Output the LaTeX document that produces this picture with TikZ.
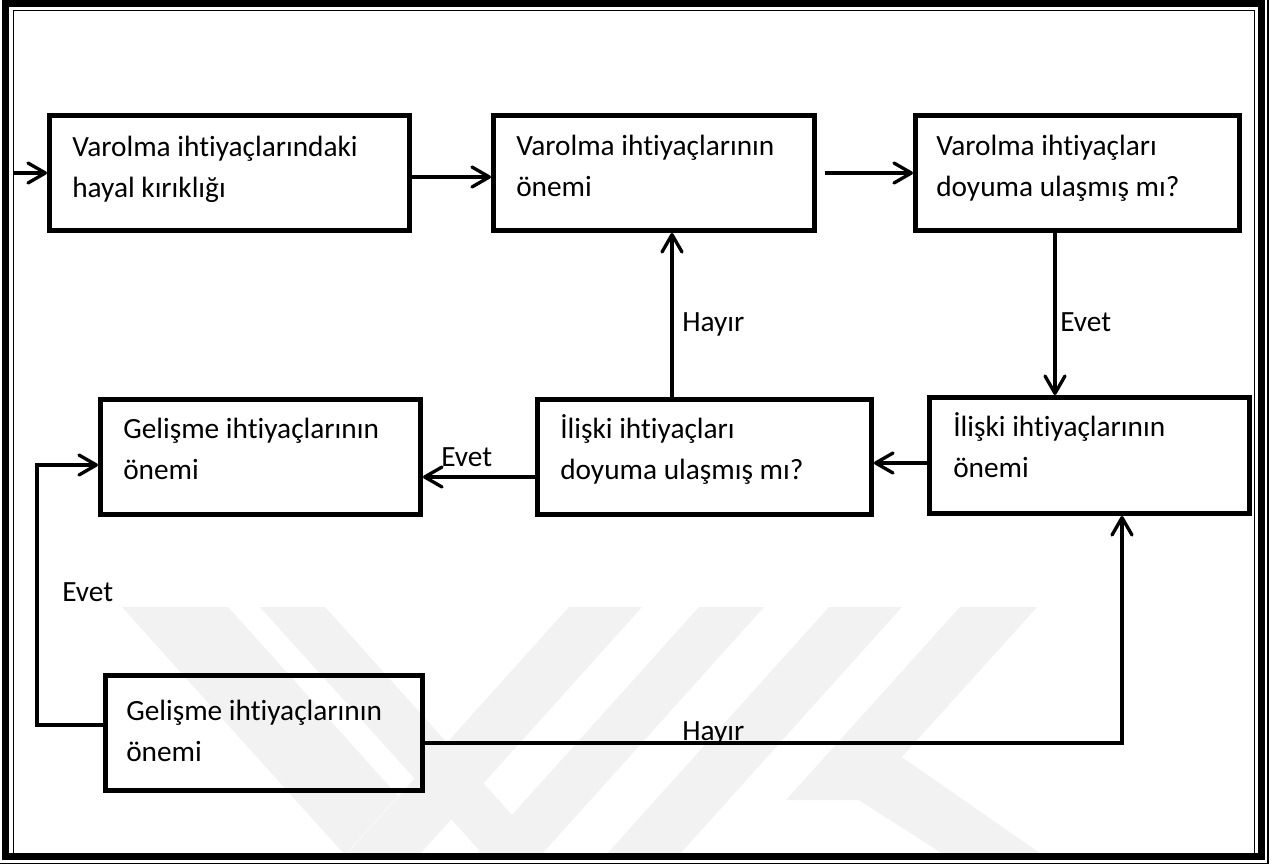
\documentclass[tikz,border=0pt]{standalone}
\usepackage{fontspec}
\setmainfont[Ligatures={NoCommon,NoContextual}]{Carlito}
\usetikzlibrary{arrows.meta,fit}
% two left-aligned lines; the node baseline is the first line
\newcommand\twoln[2]{\vtop{\baselineskip=31.1pt\hbox{#1}\hbox{#2}}}
\begin{document}
\begin{tikzpicture}[x=0.75pt,y=-0.75pt,
  box/.style={draw,line width=3.75pt,inner sep=0pt},
  txt/.style={anchor=base west,inner sep=0pt,font=\fontsize{22pt}{31pt}\selectfont},
  conn/.style={line width=2.5pt,line join=miter},
  arr/.style={conn,-{Straight Barb[length=13pt,width=15pt,round]}},
  wm/.style={fill=black!5,draw=none}]
\useasboundingbox (0,0) rectangle (1271,865);
\fill[white] (0,0) rectangle (1271,865);

% faint watermark bands
\begin{scope}
  \clip (14,11) rectangle (1254,852);
  \fill[wm] (122,607) -- (228,607) -- (398,796) -- (345,855) -- cycle;
  \fill[wm] (569,607) -- (642,607) -- (410,865) -- (337,865) -- cycle;
  \fill[wm] (260,607) -- (325,607) -- (512,815) -- (480,851) -- cycle;
  \fill[wm] (699,607) -- (764,607) -- (532,865) -- (467,865) -- cycle;
  \fill[wm] (829,607) -- (902,607) -- (670,865) -- (597,865) -- cycle;
  \fill[wm] (960,607) -- (1037,607) -- (863,800) -- (786,800) -- cycle;
  \fill[wm] (820,775) -- (870,735) -- (1057,865) -- (960,865) -- cycle;
\end{scope}

% page frame: thick line with thin companions
\draw[line width=5.25pt] (5.5,3.5) rectangle (1261.5,856.5);
\draw[line width=1.3pt] (13.5,853) -- (13.5,10.5) -- (1254.5,10.5) -- (1254.5,853);
\draw[line width=1.3pt] (1268,0) -- (1268,863.5) -- (0,863.5);

% boxes
\node[box,fit={(49.5,115.5) (409.5,230.5)}] (b1) {};
\node[box,fit={(493.5,115.5) (814.5,230.5)}] (b2) {};
\node[box,fit={(915.5,115.5) (1239.5,230.5)}] (b3) {};
\node[box,fit={(100.5,399.5) (420.5,514.5)}] (b4) {};
\node[box,fit={(537.5,399.5) (871.5,514.5)}] (b5) {};
\node[box,fit={(929.5,397.5) (1249.5,513.5)}] (b6) {};
\node[box,fit={(105.5,675.5) (422.5,790.5)}] (b7) {};

% box texts
\node[txt] (t1) at (72,156) {\twoln{Varolma ihtiyaçlarındaki}{hayal kırıklığı}};
\node[txt] (t2) at (516,155) {\twoln{Varolma ihtiyaçlarının}{önemi}};
\node[txt] (t3) at (936,155) {\twoln{Varolma ihtiyaçları}{doyuma ulaşmış mı?}};
\node[txt] (t4) at (123,438) {\twoln{Gelişme ihtiyaçlarının}{önemi}};
\node[txt] (t5) at (560,438) {\twoln{İlişki ihtiyaçları}{doyuma ulaşmış mı?}};
\node[txt] (t6) at (953,436) {\twoln{İlişki ihtiyaçlarının}{önemi}};
\node[txt] (t7) at (126,720) {\twoln{Gelişme ihtiyaçlarının}{önemi}};

% helper coordinates for connector routes
\coordinate (in0) at (14,173);
\coordinate (y1) at (0,177);
\coordinate (x3) at (1055,0);
\coordinate (x4) at (672,0);
\coordinate (y5) at (0,463);
\coordinate (y6) at (0,477);
\coordinate (y7a) at (0,725);
\coordinate (x7) at (37,0);
\coordinate (y7b) at (0,465);
\coordinate (y8) at (0,743);
\coordinate (x8) at (1122,0);

% connectors
\draw[arr] (in0) -- (b1.west);
\draw[arr] (b1.east |- y1) -- (b2.west |- y1);
\draw[arr] ([xshift=6pt]b2.east) -- (b3.west);
\draw[arr] (b3.south -| x3) -- (b6.north -| x3);
\draw[arr] (b5.north -| x4) -- (b2.south -| x4);
\draw[arr] (b6.west |- y5) -- (b5.east |- y5);
\draw[arr] (b5.west |- y6) -- (b4.east |- y6);
\draw[arr] (b7.west |- y7a) -- (x7 |- y7a) -- (x7 |- y7b) -- (b4.west |- y7b);
\draw[arr] (b7.east |- y8) -- (x8 |- y8) -- (b6.south -| x8);

% connector labels
\node[txt] (l1) at (1060,331) {Evet};
\node[txt] (l2) at (682,331) {Hayır};
\node[txt] (l3) at (441,466) {Evet};
\node[txt] (l4) at (62,601) {Evet};
\node[txt] (l5) at (682,740) {Hayır};
\end{tikzpicture}
\end{document}
